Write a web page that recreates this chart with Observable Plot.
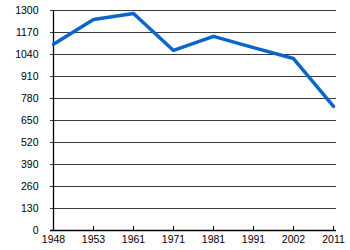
<!DOCTYPE html>
<html><head><meta charset="utf-8">
<script src="https://cdn.jsdelivr.net/npm/d3@7"></script>
<script src="https://cdn.jsdelivr.net/npm/@observablehq/plot@0.6"></script>
<style>
body{margin:0;background:#fff;}
svg{font-family:"Liberation Sans",Arial,sans-serif;}
</style></head>
<body><div id="chart"></div>
<script>
const years = ["1948","1953","1961","1971","1981","1991","2002","2011"];
const values = [1100, 1247, 1282, 1064, 1147, 1081, 1016, 733];
const yTicks = [0,130,260,390,520,650,780,910,1040,1170,1300];
const data = years.map((y,i)=>({year:y, value:values[i]}));

const chart = Plot.plot({
  width: 350, height: 250,
  marginLeft: 50, marginRight: 14, marginTop: 10, marginBottom: 20,
  style: {background: "#fff", fontSize: "10.5px", fontFamily: "Liberation Sans, Arial, sans-serif", color: "#000"},
  x: {type: "point", domain: years, padding: 0},
  y: {domain: [0,1300]},
  marks: [
    Plot.gridY(yTicks, {stroke: "#3a3a3a", strokeOpacity: 1, strokeWidth: 1}),
    Plot.axisY(yTicks, {tickSize: 0, tickPadding: 12, label: null, fill: "#000", tickFormat: d => String(d)}),
    Plot.axisX({tickSize: 0, tickPadding: 5, label: null, fill: "#000"}),
    Plot.ruleX(years.slice(1), {x: d=>d, y1: 0, y2: 0, insetTop: -4, insetBottom: -1, stroke: "#000"}),
    Plot.ruleY([0], {stroke: "#000", strokeWidth: 1.3}),
    Plot.ruleX([years[0]], {stroke: "#000", strokeWidth: 1.3}),
    Plot.line(data, {x: "year", y: "value", stroke: "#0a66c8", strokeWidth: 3.5, strokeLinejoin: "round"})
  ]
});
document.getElementById("chart").append(chart);
</script></body></html>
